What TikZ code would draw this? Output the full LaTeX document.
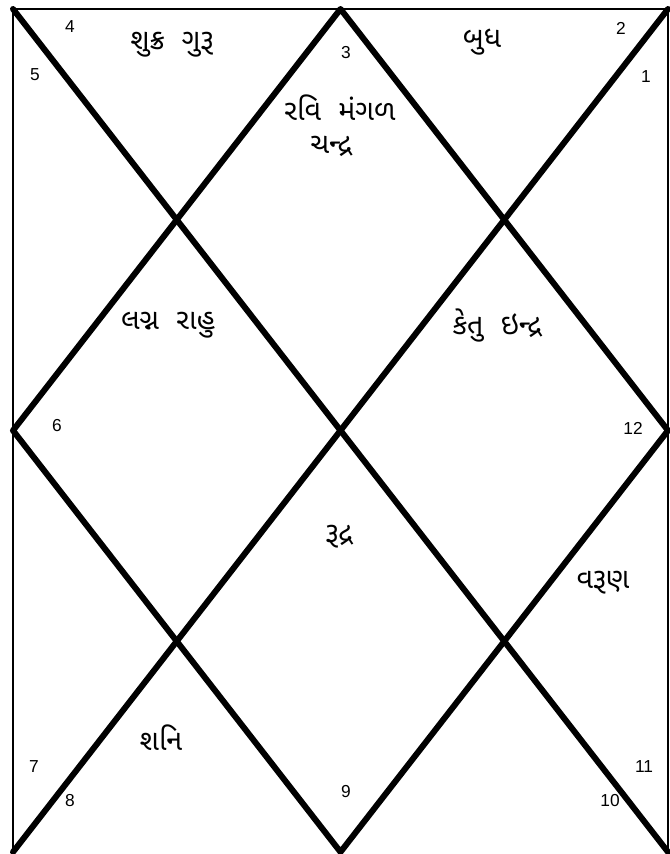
\documentclass[tikz,border=0pt]{standalone}
\usepackage{fontspec}
\setmainfont{Liberation Sans}
\newfontfamily\guj[Script=Gujarati]{Noto Sans Gujarati UI}
\newcommand{\gap}{\hspace{13pt}}
\begin{document}
\begin{tikzpicture}[x=0.75pt,y=-0.75pt,
  thick line/.style={line width=4.5pt,line cap=round,line join=round},
  border/.style={line width=2.1pt},
  num/.style={font=\fontsize{13}{15}\selectfont,inner sep=0pt},
  planet/.style={font=\guj\fontsize{21.5}{28}\selectfont,inner sep=0pt,align=center}]
\useasboundingbox (0,0) rectangle (670,854);
\coordinate (TL) at (13,9);
\coordinate (TR) at (668,9);
\coordinate (BL) at (13,852);
\coordinate (BR) at (668,852);
\coordinate (T) at (340.5,9);
\coordinate (L) at (13,430.5);
\coordinate (B) at (340.5,852);
\coordinate (R) at (668,430.5);
\draw[border] (BL) -- (TL) -- (TR) -- (BR);
\draw[thick line] (TL) -- (BR);
\draw[thick line] (TR) -- (BL);
\draw[thick line] (T) -- (R) -- (B) -- (L) -- cycle;
% house numbers
\node[num] (n4) at (70,27) {4};
\node[num] (n5) at (35,75) {5};
\node[num] (n3) at (346,53) {3};
\node[num] (n2) at (621,28) {2};
\node[num] (n1) at (646,77) {1};
\node[num] (n6) at (57,426) {6};
\node[num] (n12) at (633,428) {12};
\node[num] (n7) at (34,767) {7};
\node[num] (n8) at (70,801) {8};
\node[num] (n9) at (346,792) {9};
\node[num] (n11) at (644,767) {11};
\node[num] (n10) at (610,801) {10};
% planets
\node[planet] (p4) at (172,45) {શુક્ર\gap ગુરૂ};
\node[planet] (p2) at (482,42) {બુધ};
\node[planet] (p3a) at (340,108) {રવિ\gap મંગળ};
\node[planet] (p3b) at (331,146) {ચન્દ્ર};
\node[planet] (p5) at (168,325) {લગ્ન\gap રાહુ};
\node[planet] (p1) at (497,325) {કેતુ\gap ઇન્દ્ર};
\node[planet] (p9) at (339,537) {રૂદ્ર};
\node[planet] (p11) at (603,583) {વરૂણ};
\node[planet] (p8) at (161,738) {શનિ};
\end{tikzpicture}
\end{document}
